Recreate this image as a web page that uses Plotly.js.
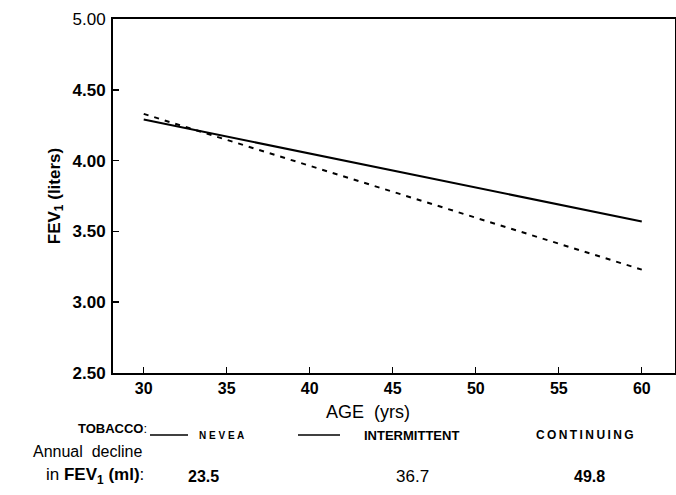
<!DOCTYPE html>
<html>
<head>
<meta charset="utf-8">
<script src="https://cdn.plot.ly/plotly-3.0.1.min.js"></script>
<style>
html,body{margin:0;padding:0;background:#fff;}
#chart{width:676px;height:495px;}
</style>
</head>
<body>
<div id="chart"></div>
<script>
// Data
const ages = [30, 60];
const fevNever = [4.29, 3.57];          // solid line
const fevIntermittent = [4.33, 3.23];   // dashed line
const groups = ['N E V E A', 'INTERMITTENT', 'C\u2009O\u2009N\u2009T\u2009I\u2009N\u2009U\u2009I\u2009N\u2009G'];
const annualDecline = ['23.5', '36.7', '49.8'];
const xTicks = [30, 35, 40, 45, 50, 55, 60];
const yTicks = [2.5, 3.0, 3.5, 4.0, 4.5, 5.0];
const yTickText = ['<b>2.50</b>', '<b>3.00</b>', '<b>3.50</b>', '<b>4.00</b>', '<b>4.50</b>', '5.00'];

const traces = [
  {x: ages, y: fevNever, mode: 'lines', line: {color: '#000', width: 2}, name: 'Never', showlegend: false},
  {x: ages, y: fevIntermittent, mode: 'lines', line: {color: '#000', width: 2, dash: '5px,6px'}, name: 'Intermittent', showlegend: false}
];

const narrow = 'Liberation Sans Narrow, Arial Narrow, sans-serif';
const sans = 'Liberation Sans, Arial, sans-serif';

const annotations = [
  {text: 'AGE  (yrs)', xpx: 368, y: 412, font: {family: narrow, size: 18, color: '#000'}},
  {text: '<b>TOBACCO</b>:', right: 149, y: 428, font: {family: narrow, size: 13, color: '#000'}},
  {text: '<b>' + groups[0] + '</b>', xpx: 221, y: 435, font: {family: sans, size: 10, color: '#000'}},
  {text: '<b>' + groups[1] + '</b>', xpx: 411, y: 435, font: {family: sans, size: 13, color: '#000'}},
  {text: '<b>' + groups[2] + '</b>', xpx: 585, y: 435, font: {family: sans, size: 12, color: '#000'}},
  {text: 'Annual  decline', right: 145, y: 451, font: {family: narrow, size: 16, color: '#000'}},
  {text: 'in <b>FEV<sub>1</sub> (ml)</b>:', right: 146, y: 476, font: {family: narrow, size: 17, color: '#000'}},
  {text: '<b>' + annualDecline[0] + '</b>', xpx: 203, y: 476, font: {family: narrow, size: 16, color: '#000'}},
  {text: annualDecline[1], xpx: 412, y: 476, font: {family: narrow, size: 17, color: '#000'}},
  {text: '<b>' + annualDecline[2] + '</b>', xpx: 589, y: 476, font: {family: narrow, size: 16, color: '#000'}}
];

// plot area in pixels: left 113, right 675, top 19, bottom 373
const L = 113, R = 675, T = 19, B = 373, H = 495, W = 676;
function px2paperX(px){ return (px - L) / (R - L); }
function px2paperY(py){ return (B - py) / (B - T); }

const anns = annotations.map(a => {
  const o = {xref: 'paper', yref: 'paper', showarrow: false, text: a.text, font: a.font, yanchor: 'middle'};
  o.y = px2paperY(a.y);
  if (a.right !== undefined) { o.x = px2paperX(a.right); o.xanchor = 'right'; }
  else { o.x = px2paperX(a.xpx); o.xanchor = 'center'; }
  return o;
});

const shapes = [
  {type: 'line', xref: 'paper', yref: 'paper', x0: px2paperX(150), x1: px2paperX(188), y0: px2paperY(435), y1: px2paperY(435), line: {color: '#000', width: 1.5}},
  {type: 'line', xref: 'paper', yref: 'paper', x0: px2paperX(298), x1: px2paperX(340), y0: px2paperY(435), y1: px2paperY(435), line: {color: '#000', width: 1.5}}
];

const layout = {
  width: W, height: H,
  margin: {l: L, r: W - R, t: T, b: H - B, pad: 0},
  paper_bgcolor: '#fff', plot_bgcolor: '#fff',
  showlegend: false,
  xaxis: {
    range: [28.15, 62], tickvals: xTicks, ticktext: xTicks.map(String),
    showgrid: false, zeroline: false, showline: true, mirror: true,
    linecolor: '#000', linewidth: 2,
    ticks: 'inside', ticklen: 6, tickwidth: 1, tickcolor: '#000',
    tickfont: {family: sans, size: 16, color: '#000', weight: 'bold'},
    ticklabelstandoff: 0
  },
  yaxis: {
    range: [2.5, 5.0], tickvals: yTicks, ticktext: yTickText,
    showgrid: false, zeroline: false, showline: true, mirror: true,
    linecolor: '#000', linewidth: 2,
    ticks: 'inside', ticklen: 6, tickwidth: 1.5, tickcolor: '#000',
    tickfont: {family: sans, size: 17, color: '#000'},
    ticklabelstandoff: 2,
    title: {text: '<b>FEV<sub>1</sub> (liters)</b>', font: {family: sans, size: 17, color: '#000'}, standoff: 8}
  },
  annotations: anns,
  shapes: shapes
};

Plotly.newPlot('chart', traces, layout, {staticPlot: true, displayModeBar: false});
</script>
</body>
</html>
